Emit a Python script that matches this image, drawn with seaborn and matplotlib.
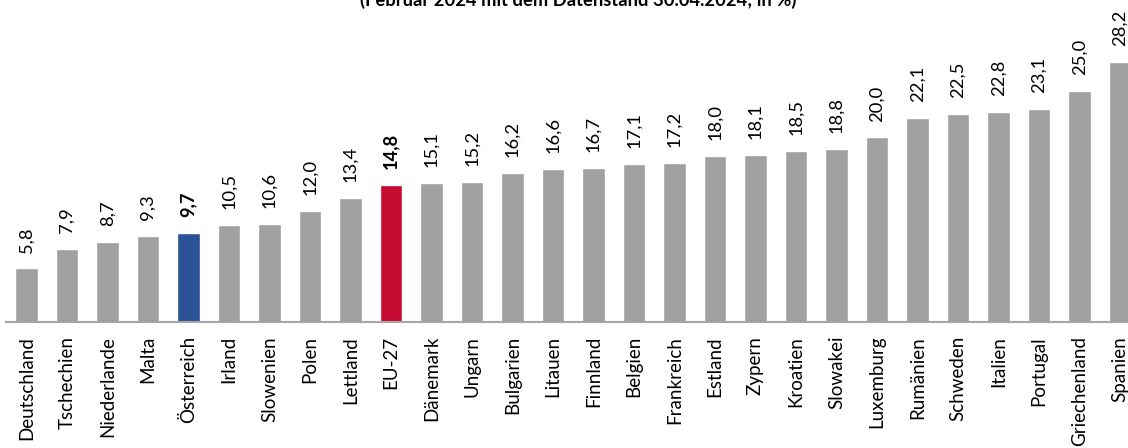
import matplotlib
matplotlib.use("Agg")
import matplotlib.pyplot as plt
import seaborn as sns

# data
countries = ["Deutschland", "Tschechien", "Niederlande", "Malta", "Österreich", "Irland",
             "Slowenien", "Polen", "Lettland", "EU-27", "Dänemark", "Ungarn", "Bulgarien",
             "Litauen", "Finnland", "Belgien", "Frankreich", "Estland", "Zypern", "Kroatien",
             "Slowakei", "Luxemburg", "Rumänien", "Schweden", "Italien", "Portugal",
             "Griechenland", "Spanien"]
values = [5.8, 7.9, 8.7, 9.3, 9.7, 10.5, 10.6, 12.0, 13.4, 14.8, 15.1, 15.2, 16.2,
          16.6, 16.7, 17.1, 17.2, 18.0, 18.1, 18.5, 18.8, 20.0, 22.1, 22.5, 22.8, 23.1,
          25.0, 28.2]
highlight = {"Österreich": "#2B5197", "EU-27": "#C50B32"}
gray = "#A0A0A0"
palette = {c: highlight.get(c, gray) for c in countries}

sns.set_theme(style="white")
plt.rcParams["font.family"] = ["Lato", "DejaVu Sans"]

fig = plt.figure(figsize=(11.28, 4.48), dpi=100)
ax = fig.add_axes([6 / 1128, 126 / 448, 1 - 6 / 1128, 322 / 448])

sns.barplot(x=countries, y=values, hue=countries, palette=palette, legend=False,
            width=0.56, saturation=1, ax=ax)

ax.set_xlim(-0.506, 27.2)
ax.set_ylim(0, 34.9)

# value labels
for i, (c, v) in enumerate(zip(countries, values)):
    ax.annotate(f"{v:.1f}".replace(".", ","), (i, v), xytext=(0, 11.5),
                textcoords="offset points", rotation=90, ha="center", va="bottom",
                fontsize=13.2, color="black",
                fontweight="bold" if c in highlight else "normal")

ax.set_xticks(range(len(countries)))
ax.set_xticklabels(countries, rotation=90, fontsize=13.5, color="black", va="top")
ax.tick_params(axis="x", length=0, pad=10)
ax.set_yticks([])
ax.set_xlabel("")
ax.set_ylabel("")
for s in ["top", "right", "left"]:
    ax.spines[s].set_visible(False)
ax.spines["bottom"].set_color("#A6A6A6")
ax.spines["bottom"].set_linewidth(1.5)

fig.text(578 / 1128, 1 - 9 / 448, "(Februar 2024 mit dem Datenstand 30.04.2024; in %)",
         ha="center", va="bottom", fontsize=13.2, fontweight="bold", color="black")

fig.savefig("out.png", dpi=100)
